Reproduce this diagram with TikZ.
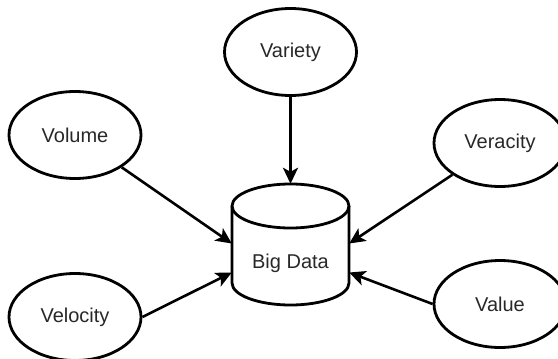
\documentclass[tikz,border=0pt]{standalone}
\usepackage{fontspec}
\setmainfont{Liberation Sans}
\usetikzlibrary{shapes.geometric,arrows.meta}
\definecolor{inkgray}{RGB}{40,40,40}
\tikzset{
  vnode/.style={ellipse, draw=black, line width=2.8pt, inner sep=0pt,
    minimum width=132pt, minimum height=87pt, text=inkgray,
    font=\fontsize{20}{24}\selectfont},
  link/.style={draw=black, line width=2.6pt,
    -{Stealth[length=16pt,width=15pt,inset=4pt]}},
  store/.style={draw=black, line width=2.8pt}
}
\begin{document}
\begin{tikzpicture}[x=1pt,y=-1pt]
  \useasboundingbox (0,0) rectangle (558,359);

  % the five V's
  \node[vnode] (variety)  at (290.5,52) {Variety};
  \node[vnode] (volume)   at (75,135)   {Volume};
  \node[vnode] (veracity) at (500,143)  {Veracity};
  \node[vnode] (velocity) at (75,317)   {Velocity};
  \node[vnode] (value)    at (500,304)  {Value};

  % the data store: an invisible box that the arrows aim at
  \node[minimum width=117pt, minimum height=121pt, inner sep=0pt]
    (bigdata) at (290.5,244.5) {};
  \path[store] (232,206) -- (232,283) arc (180:0:58.5 and 22) -- (349,206);
  \path[store] (290.5,206) ellipse (58.5 and 22);
  \node[text=inkgray, font=\fontsize{20}{24}\selectfont] (label) at (290.5,263) {Big Data};

  % connectors
  \draw[link] (variety) -- (bigdata.north);
  \draw[link] (volume) -- ([yshift=1pt]bigdata.west);
  \draw[link] (velocity.east) -- ([yshift=-28pt]bigdata.west);
  \draw[link] (veracity) -- ([yshift=1pt]bigdata.east);
  \draw[link] (value.west) -- ([yshift=-28pt]bigdata.east);
\end{tikzpicture}
\end{document}
